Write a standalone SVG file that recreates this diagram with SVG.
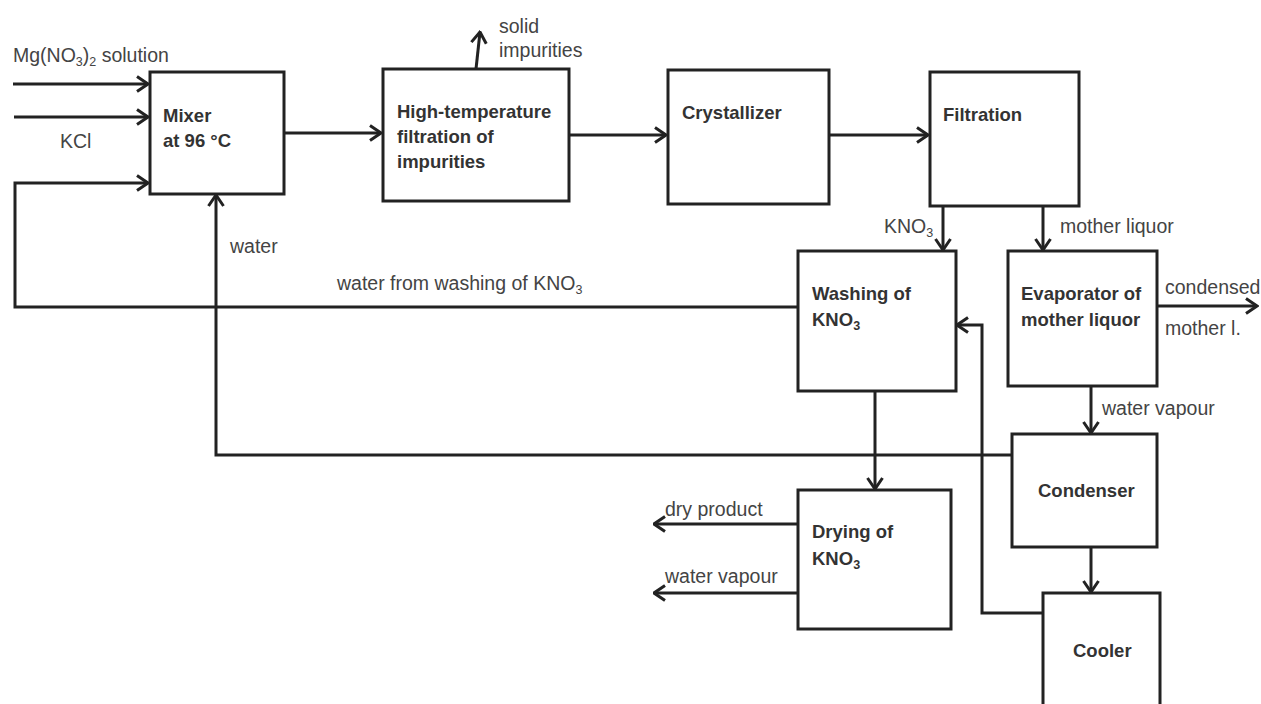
<svg xmlns="http://www.w3.org/2000/svg" width="1261" height="704" viewBox="0 0 1261 704">
<style>
.box{fill:#fff;stroke:#222;stroke-width:3}
.c{fill:none;stroke:#222;stroke-width:3;marker-end:url(#ah)}
.b{font-family:"Liberation Sans",Arial,sans-serif;font-weight:bold;font-size:18.5px;fill:#333}
.l{font-family:"Liberation Sans",Arial,sans-serif;font-size:19.5px;fill:#444}
.s{font-size:12.5px}
</style>
<defs>
<marker id="ah" viewBox="0 0 14 18" refX="12.5" refY="9" markerWidth="14" markerHeight="18" markerUnits="userSpaceOnUse" orient="auto">
<path d="M1.5,1.5 L12.5,9 L1.5,16.5" fill="none" stroke="#222" stroke-width="3"/>
</marker>
</defs>
<rect width="1261" height="704" fill="#fff"/>
<g id="connectors">
<path class="c" d="M13,84 H148"/>
<path class="c" d="M14,117 H148"/>
<path class="c" d="M798,307 H15 V183 H148"/>
<path class="c" d="M284,133 H381"/>
<path class="c" d="M476,69 L480,32"/>
<path class="c" d="M569,135 H666"/>
<path class="c" d="M829,135 H928"/>
<path class="c" d="M943,206 V250"/>
<path class="c" d="M1043,206 V250"/>
<path class="c" d="M1157,306 H1257"/>
<path class="c" d="M1091,386 V433"/>
<path class="c" d="M1091,547 V592"/>
<path class="c" d="M1043,613 H982 V325 H957"/>
<path class="c" d="M1012,455 H216 V195"/>
<path class="c" d="M875,391 V489"/>
<path class="c" d="M798,524 H654"/>
<path class="c" d="M798,593 H654"/>
</g>
<g id="labels">
<text class="l" x="13" y="62">Mg(NO<tspan class="s" dy="4">3</tspan><tspan dy="-4">)</tspan><tspan class="s" dy="4">2</tspan><tspan dy="-4"> solution</tspan></text>
<text class="l" x="60" y="148">KCl</text>
<text class="l" x="499" y="33">solid</text>
<text class="l" x="499" y="57">impurities</text>
<text class="l" x="884" y="233">KNO<tspan class="s" dy="4">3</tspan></text>
<text class="l" x="1060" y="233">mother liquor</text>
<text class="l" x="1165" y="294">condensed</text>
<text class="l" x="1165" y="335">mother l.</text>
<text class="l" x="1102" y="415">water vapour</text>
<text class="l" x="230" y="253">water</text>
<text class="l" x="337" y="290">water from washing of KNO<tspan class="s" dy="4">3</tspan></text>
<text class="l" x="665" y="516">dry product</text>
<text class="l" x="665" y="583">water vapour</text>
</g>
<g id="mixer">
<rect class="box" x="150" y="72" width="134" height="122"/>
<text class="b" x="163" y="122">Mixer</text>
<text class="b" x="163" y="147">at 96 °C</text>
</g>
<g id="htfilter">
<rect class="box" x="383" y="69" width="186" height="132"/>
<text class="b" x="397" y="118">High-temperature</text>
<text class="b" x="397" y="143">filtration of</text>
<text class="b" x="397" y="168">impurities</text>
</g>
<g id="crystallizer">
<rect class="box" x="668" y="70" width="161" height="134"/>
<text class="b" x="682" y="119">Crystallizer</text>
</g>
<g id="filtration">
<rect class="box" x="930" y="72" width="149" height="134"/>
<text class="b" x="943" y="121">Filtration</text>
</g>
<g id="washing">
<rect class="box" x="798" y="251" width="158" height="140"/>
<text class="b" x="812" y="300">Washing of</text>
<text class="b" x="812" y="326">KNO<tspan class="s" dy="4">3</tspan></text>
</g>
<g id="evaporator">
<rect class="box" x="1008" y="251" width="149" height="135"/>
<text class="b" x="1021" y="300">Evaporator of</text>
<text class="b" x="1021" y="326">mother liquor</text>
</g>
<g id="condenser">
<rect class="box" x="1012" y="434" width="145" height="113"/>
<text class="b" x="1038" y="497">Condenser</text>
</g>
<g id="cooler">
<rect class="box" x="1043" y="593" width="117" height="130"/>
<text class="b" x="1073" y="657">Cooler</text>
</g>
<g id="drying">
<rect class="box" x="798" y="490" width="153" height="139"/>
<text class="b" x="812" y="538">Drying of</text>
<text class="b" x="812" y="565">KNO<tspan class="s" dy="4">3</tspan></text>
</g>
</svg>
